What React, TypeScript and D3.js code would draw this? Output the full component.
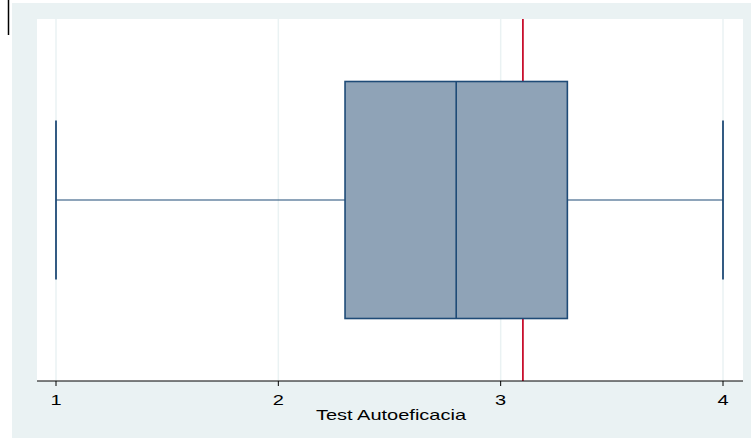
import React from "react";
import * as d3 from "d3";

const ticks = [1, 2, 3, 4];
const boxStats = { min: 1, q1: 2.3, median: 2.8, q3: 3.3, max: 4 };
const refLine = [3.1];
const axisTitle = "Test Autoeficacia";

export default function App() {
  const W = 751, H = 439;
  const plot = { left: 37, right: 743, top: 19, bottom: 381 };
  const x = d3.scaleLinear().domain([1, 4]).range([56, 723]);
  const yC = 200;
  const boxHalf = 118.5;
  const capHalf = 79.5;
  const navy = "#1f4b77";
  const font = "'Liberation Sans', Arial, sans-serif";
  const sx = 1.38;
  return (
    <svg width={W} height={H} style={{ position: "absolute", left: 0, top: 0 }} fontFamily={font}>
      <rect x={0} y={0} width={W} height={H} fill="#ffffff" />
      <rect x={12} y={3} width={W - 12} height={435} fill="#eaf2f3" />
      <line x1={8.5} x2={8.5} y1={0} y2={35} stroke="#000" strokeWidth={1.5} />
      <rect x={plot.left} y={plot.top} width={plot.right - plot.left} height={plot.bottom - plot.top} fill="#ffffff" />
      {ticks.map((t) => (
        <line key={"g" + t} x1={x(t)} x2={x(t)} y1={plot.top} y2={plot.bottom} stroke="#eaf2f3" strokeWidth={1.5} />
      ))}
      {refLine.map((r) => (
        <line key={"r" + r} x1={x(r)} x2={x(r)} y1={plot.top} y2={plot.bottom} stroke="#c8102e" strokeWidth={1.8} />
      ))}
      <line x1={x(boxStats.min)} x2={x(boxStats.q1)} y1={yC} y2={yC} stroke={navy} strokeWidth={1.2} />
      <line x1={x(boxStats.q3)} x2={x(boxStats.max)} y1={yC} y2={yC} stroke={navy} strokeWidth={1.2} />
      <line x1={x(boxStats.min)} x2={x(boxStats.min)} y1={yC - capHalf} y2={yC + capHalf} stroke={navy} strokeWidth={1.8} />
      <line x1={x(boxStats.max)} x2={x(boxStats.max)} y1={yC - capHalf} y2={yC + capHalf} stroke={navy} strokeWidth={1.8} />
      <rect x={x(boxStats.q1)} y={yC - boxHalf} width={x(boxStats.q3) - x(boxStats.q1)} height={boxHalf * 2} fill="#8fa3b7" stroke={navy} strokeWidth={1.6} />
      <line x1={x(boxStats.median)} x2={x(boxStats.median)} y1={yC - boxHalf} y2={yC + boxHalf} stroke={navy} strokeWidth={1.6} />
      <line x1={plot.left} x2={plot.right} y1={plot.bottom} y2={plot.bottom} stroke="#000" strokeWidth={1} />
      {ticks.map((t) => (
        <g key={"t" + t}>
          <line x1={x(t)} x2={x(t)} y1={plot.bottom} y2={plot.bottom + 5} stroke="#000" strokeWidth={1} />
          <text transform={`translate(${x(t)},405) scale(${sx},1)`} textAnchor="middle" fontSize={14.5} fill="#000">{t}</text>
        </g>
      ))}
      <text transform={`translate(391,420) scale(${sx},1)`} textAnchor="middle" fontSize={14.5} fill="#000">{axisTitle}</text>
    </svg>
  );
}
